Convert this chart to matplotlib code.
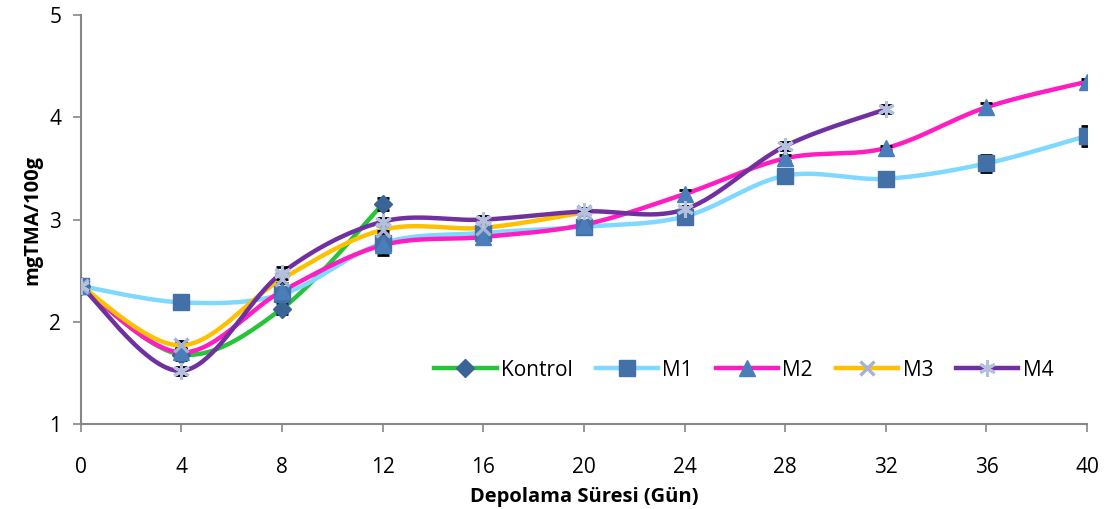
import matplotlib.pyplot as plt
import numpy as np

# Depolama süresi (gün)
days = [0, 4, 8, 12, 16, 20, 24, 28, 32, 36, 40]

kontrol = [2.35, 1.68, 2.13, 3.15]
m1 = [2.35, 2.19, 2.27, 2.77, 2.87, 2.93, 3.03, 3.43, 3.40, 3.55, 3.82]
m2 = [2.35, 1.70, 2.30, 2.75, 2.83, 2.95, 3.25, 3.60, 3.70, 4.10, 4.35]
m3 = [2.35, 1.77, 2.42, 2.90, 2.92, 3.07]
m4 = [2.35, 1.52, 2.48, 2.98, 3.00, 3.08, 3.10, 3.72, 4.08]

kontrol_err = [0.02, 0.05, 0.05, 0.06]
m1_err = [0.02, 0.02, 0.05, 0.12, 0.02, 0.02, 0.03, 0.03, 0.02, 0.08, 0.10]
m2_err = [0.02, 0.04, 0.04, 0.04, 0.02, 0.02, 0.04, 0.03, 0.02, 0.04, 0.03]
m3_err = [0.02, 0.04, 0.04, 0.04, 0.03, 0.02]
m4_err = [0.02, 0.04, 0.06, 0.04, 0.04, 0.03, 0.03, 0.04, 0.04]

labels = ['Kontrol', 'M1', 'M2', 'M3', 'M4']


def excel_smooth(x, y, n=30):
    # Bezier egrisi, Excel'deki "duzgun cizgi" gibi noktalardan gecer
    x = np.asarray(x, float)
    y = np.asarray(y, float)
    px, py = [], []
    for i in range(len(x) - 1):
        x0, y0 = (x[i - 1], y[i - 1]) if i > 0 else (x[i], y[i])
        x3, y3 = (x[i + 2], y[i + 2]) if i + 2 < len(x) else (x[i + 1], y[i + 1])
        c1x = x[i] + (x[i + 1] - x0) / 6
        c1y = y[i] + (y[i + 1] - y0) / 6
        c2x = x[i + 1] - (x3 - x[i]) / 6
        c2y = y[i + 1] - (y3 - y[i]) / 6
        t = np.linspace(0, 1, n)
        bx = (1-t)**3*x[i] + 3*(1-t)**2*t*c1x + 3*(1-t)*t**2*c2x + t**3*x[i+1]
        by = (1-t)**3*y[i] + 3*(1-t)**2*t*c1y + 3*(1-t)*t**2*c2y + t**3*y[i+1]
        px.extend(bx)
        py.extend(by)
    return np.array(px), np.array(py)


plt.rcParams['font.family'] = ['Open Sans', 'DejaVu Sans']

fig = plt.figure(figsize=(11.07, 5.09), dpi=100)
ax = fig.add_axes([0.073, 0.167, 0.909, 0.803])

series = [
    (kontrol, kontrol_err, '#27C43B', 'D', '#3A6496', '#3A6496', 9, 1.0),
    (m1, m1_err, '#7FD8FF', 's', '#4470A8', '#4470A8', 11, 1.0),
    (m2, m2_err, '#FF1DC1', '^', '#4A7EBB', '#4A7EBB', 11, 1.0),
    (m3, m3_err, '#FFC000', 'x', '#A4B2D4', '#A4B2D4', 10, 2.4),
    (m4, m4_err, '#7030A0', (6, 2, 0), '#B4C0DC', '#B4C0DC', 12, 2.2),
]

for (vals, err, lc, mk, mfc, mec, ms, mew), lab in zip(series, labels):
    d = days[:len(vals)]
    sx, sy = excel_smooth(d, vals)
    ax.plot(sx, sy, color=lc, lw=3.2, zorder=2, solid_capstyle='round')
    ax.errorbar(d, vals, yerr=err, fmt='none', ecolor='black', elinewidth=2,
                capsize=4, capthick=2, zorder=3)
    ax.plot(d, vals, linestyle='none', marker=mk, markersize=ms,
            markerfacecolor=mfc, markeredgecolor=mec, markeredgewidth=mew, zorder=4)
    # legend proxy
    ax.plot([], [], color=lc, lw=3.2, marker=mk, markersize=ms,
            markerfacecolor=mfc, markeredgecolor=mec, markeredgewidth=mew, label=lab)

ax.set_xlim(0, 40)
ax.set_ylim(1, 5)
ax.set_xticks(days)
ax.set_yticks([1, 2, 3, 4, 5])

for s in ['top', 'right']:
    ax.spines[s].set_visible(False)
for s in ['left', 'bottom']:
    ax.spines[s].set_color('#868686')
    ax.spines[s].set_linewidth(1.5)

ax.tick_params(axis='x', direction='out', length=6, width=1.2, color='#868686',
               labelsize=15, pad=18)
ax.tick_params(axis='y', direction='out', length=6, width=1.2, color='#868686',
               labelsize=15, pad=8)

ax.set_xlabel('Depolama Süresi (Gün)', fontsize=14.5, fontweight='bold', labelpad=6)
ax.set_ylabel('mgTMA/100g', fontsize=14.5, fontweight='bold', labelpad=5)

handles, leg_labels = ax.get_legend_handles_labels()
ax.legend(handles, leg_labels, ncol=5, loc='lower right', bbox_to_anchor=(0.985, 0.06),
          frameon=False, fontsize=15, handlelength=3.0, columnspacing=1.1,
          handletextpad=0.2)

fig.savefig('out.png', dpi=100)
